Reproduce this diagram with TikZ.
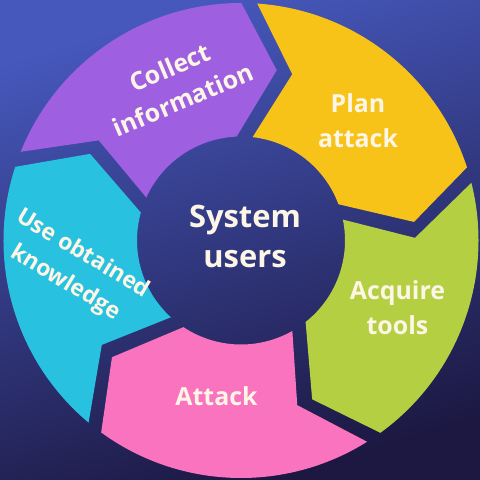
\documentclass[tikz,border=0pt]{standalone}
\usepackage{fontspec}
\setmainfont{Open Sans}
\definecolor{bgtop}{RGB}{70,88,188}
\definecolor{bgbot}{RGB}{28,24,66}
\definecolor{cpurple}{RGB}{158,96,224}
\definecolor{cyellow}{RGB}{248,195,24}
\definecolor{cgreen}{RGB}{180,208,66}
\definecolor{cpink}{RGB}{249,115,190}
\definecolor{ccyan}{RGB}{40,194,224}
\definecolor{cream}{RGB}{253,245,230}
\def\Ro{237.5}
\def\Ri{104}
\def\Rm{174}
\def\gapw{8}
\newcommand\ringseg[3]{%
  \pgfmathsetmacro\segta{#1-\dO}%
  \pgfmathsetmacro\seghb{#2+\dO}%
  \pgfmathsetmacro\segtip{#2-12.5+\dT}%
  \pgfmathsetmacro\seghi{#2+\dI}%
  \pgfmathsetmacro\segti{#1-\dI}%
  \pgfmathsetmacro\segnotch{#1-12.5-\dT}%
  \fill[#3] (\segta:\Ro) arc[start angle=\segta,end angle=\seghb,radius=\Ro]
    -- (\segtip:\Rm) -- (\seghi:\Ri)
    arc[start angle=\seghi,end angle=\segti,radius=\Ri]
    -- (\segnotch:\Rm) -- cycle;}
\begin{document}
\begin{tikzpicture}[x=1bp,y=1bp,
  lbl/.style={text=cream,font=\bfseries\fontsize{25}{35}\selectfont,align=center,inner sep=0pt},
  hub/.style={text=cream,font=\bfseries\fontsize{31}{41}\selectfont,align=center,inner sep=0pt}]
\pgfmathsetmacro\dO{deg(\gapw/\Ro)}
\pgfmathsetmacro\dI{deg(\gapw/\Ri)}
\pgfmathsetmacro\dT{deg(\gapw/\Rm)}
\useasboundingbox (-241,-239.5) rectangle (239,240.5);
\shade[top color=bgtop,bottom color=bgbot,shading angle=17] (-241,-239.5) rectangle (239,240.5);
\ringseg{160}{88}{cpurple}
\ringseg{88}{16}{cyellow}
\ringseg{16}{-56}{cgreen}
\ringseg{-56}{-128}{cpink}
\ringseg{-128}{-200}{ccyan}
\node[hub] (hub) at (4,4) {System\\users};
\node[lbl,rotate=23] (collect) at (-64.5,157) {Collect\\information};
\node[lbl] (plan) at (117,119.5) {Plan\\attack};
\node[lbl] (acquire) at (156.5,-67) {Acquire\\tools};
\node[lbl] (attack) at (-24.5,-156) {Attack};
\node[lbl,rotate=-31,font=\bfseries\fontsize{23}{34}\selectfont] (use) at (-167,-28) {Use obtained\\knowledge};
\end{tikzpicture}
\end{document}
